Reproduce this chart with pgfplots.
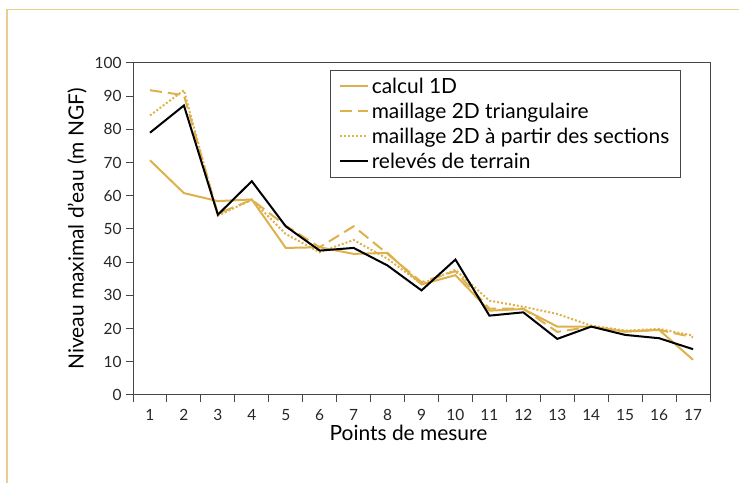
\documentclass[border=0pt]{standalone}
\usepackage{fontspec}
\setmainfont{Lato}
\usepackage{pgfplots}
\pgfplotsset{compat=1.18}
\definecolor{gold}{RGB}{222,177,76}
\definecolor{framegold}{RGB}{232,208,140}
\definecolor{axgray}{RGB}{70,70,70}
\begin{document}
\begin{tikzpicture}[x=1bp,y=1bp]
\useasboundingbox (0,0) rectangle (739,483);
\draw[framegold, line width=1.5bp] (7,0) -- (7,473.5) -- (739,473.5);
\begin{axis}[
  at={(133bp,88bp)}, anchor=south west,
  scale only axis, width=577bp, height=332bp,
  xmin=0.5, xmax=17.5, ymin=0, ymax=100,
  xtick={1,...,17}, ytick={0,10,...,100},
  minor xtick={0.5,1.5,...,17.5},
  tick align=outside, tick pos=left,
  major x tick style={draw=none},
  major tick length=7bp, minor tick length=7bp,
  every tick/.style={axgray, line width=1bp},
  axis line style={axgray, line width=1bp},
  /pgf/number format/assume math mode=true,
  tick label style={font=\fontsize{15.5}{18}\selectfont, text=black!85},
  xticklabel style={yshift=-4bp},
  yticklabel style={xshift=-1bp},
  xlabel={Points de mesure},
  ylabel={Niveau maximal d'eau (m NGF)},
  label style={font=\fontsize{21}{24}\selectfont},
  xlabel style={yshift=3bp, xshift=-13bp},
  ylabel style={yshift=1bp},
  legend cell align=left,
  legend style={at={(rel axis cs:0.341,0.979)}, anchor=north west,
    draw=axgray, line width=1bp, font=\fontsize{21}{25}\selectfont,
    inner xsep=9bp, inner ysep=5bp, row sep=3bp,
    nodes={inner sep=2.5bp}},
  legend image code/.code={\draw[#1, line width=2bp] (0bp,0bp) -- (28bp,0bp);},
]
\addplot[gold, line width=2bp] coordinates {
(1,70.7) (2,60.8) (3,58.4) (4,58.9) (5,44.3) (6,44.5) (7,42.5) (8,42.8) (9,33.3)
(10,36.1) (11,25.4) (12,25.9) (13,20.6) (14,20.6) (15,19.1) (16,19.6) (17,10.6)};
\addlegendentry{calcul 1D}
\addplot[gold, line width=2bp, dash pattern=on 12bp off 6bp] coordinates {
(1,91.8) (2,90.3) (3,54.6) (4,58.8) (5,51.0) (6,44.5) (7,50.8) (8,42.5) (9,34.0)
(10,37.3) (11,26.0) (12,26.0) (13,19.0) (14,20.6) (15,19.1) (16,19.6) (17,17.4)};
\addlegendentry{maillage 2D triangulaire}
\addplot[gold, line width=2bp, dash pattern=on 2bp off 2bp] coordinates {
(1,84.2) (2,91.8) (3,54.0) (4,58.8) (5,48.5) (6,43.0) (7,46.7) (8,41.0) (9,33.5)
(10,37.7) (11,28.4) (12,26.6) (13,24.4) (14,20.9) (15,19.4) (16,19.9) (17,17.9)};
\addlegendentry{maillage 2D à partir des sections}
\addplot[black, line width=2bp] coordinates {
(1,79.0) (2,87.2) (3,54.3) (4,64.4) (5,50.8) (6,43.5) (7,44.3) (8,39.0) (9,31.5)
(10,40.8) (11,23.9) (12,24.9) (13,16.9) (14,20.6) (15,18.1) (16,17.1) (17,13.8)};
\addlegendentry{relevés de terrain}
\end{axis}
\end{tikzpicture}
\end{document}
